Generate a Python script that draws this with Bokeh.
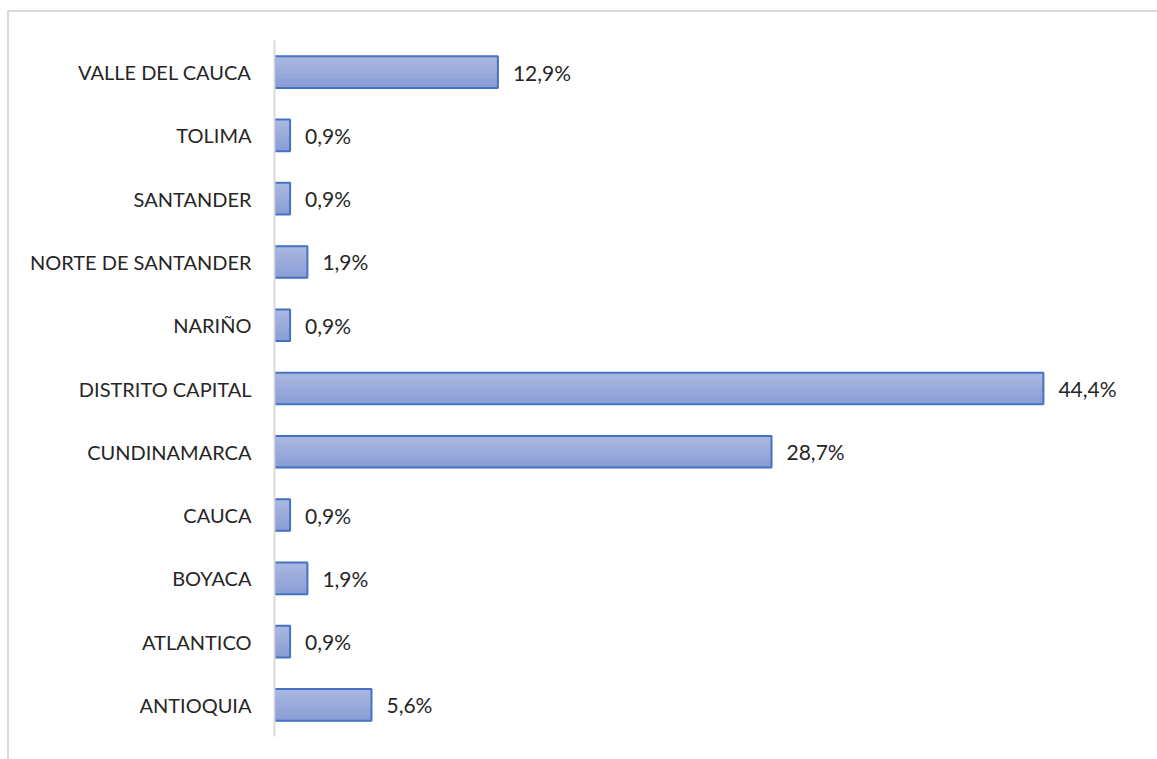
from bokeh.plotting import figure
from bokeh.models import FactorRange, Range1d, ColumnDataSource
from bokeh.transform import dodge
from bokeh.core.properties import value
from bokeh.embed import file_html
from bokeh.resources import INLINE

departamentos = ["ANTIOQUIA", "ATLANTICO", "BOYACA", "CAUCA", "CUNDINAMARCA",
                 "DISTRITO CAPITAL", "NARIÑO", "NORTE DE SANTANDER", "SANTANDER",
                 "TOLIMA", "VALLE DEL CAUCA"]
porcentajes = [5.6, 0.9, 1.9, 0.9, 28.7, 44.4, 0.9, 1.9, 0.9, 0.9, 12.9]
etiquetas = ["5,6%", "0,9%", "1,9%", "0,9%", "28,7%", "44,4%", "0,9%", "1,9%",
             "0,9%", "0,9%", "12,9%"]

src = ColumnDataSource(dict(y=departamentos, x=porcentajes, lab=etiquetas))

p = figure(width=1148, height=747, output_backend="svg", toolbar_location=None,
           y_range=FactorRange(*departamentos, range_padding=0),
           x_range=Range1d(0, 50.7),
           min_border_left=265, min_border_top=28, min_border_bottom=23,
           min_border_right=5)
p.outline_line_color = None
p.background_fill_color = "white"
p.border_fill_color = "white"
p.xgrid.visible = False
p.ygrid.visible = False
p.xaxis.visible = False

ya = p.yaxis[0]
ya.axis_line_color = "#d9d9d9"
ya.axis_line_width = 2
ya.major_tick_line_color = None
ya.minor_tick_line_color = None
ya.major_label_text_font = "Lato"
ya.major_label_text_font_size = "20px"
ya.major_label_text_color = "#262626"
ya.major_label_standoff = 17

# gradient bars made of thin strips
n = 16
h = 0.5
top = (170, 184, 225)
bot = (138, 158, 214)
for k in range(n):
    t = k / (n - 1)
    c = tuple(int(round(top[i] + (bot[i] - top[i]) * t)) for i in range(3))
    col = "#%02x%02x%02x" % c
    off = h / 2 - (k + 0.5) * h / n
    p.hbar(y=dodge("y", off, range=p.y_range), right="x", left=0, height=h / n,
           source=src, fill_color=col, line_color=col, line_width=1)

p.hbar(y="y", right="x", left=0, height=h, source=src, fill_color=None,
       line_color="#4472c4", line_width=2)

p.text(x="x", y="y", text="lab", source=src, x_offset=15,
       text_baseline="middle", text_align="left", text_font=value("Lato"),
       text_font_size="21px", text_color="#262626")

p.styles = {"outline": "2px solid #d9d9d9", "margin-left": "9px", "margin-top": "12px"}

open("out.html", "w").write(file_html(p, INLINE))
